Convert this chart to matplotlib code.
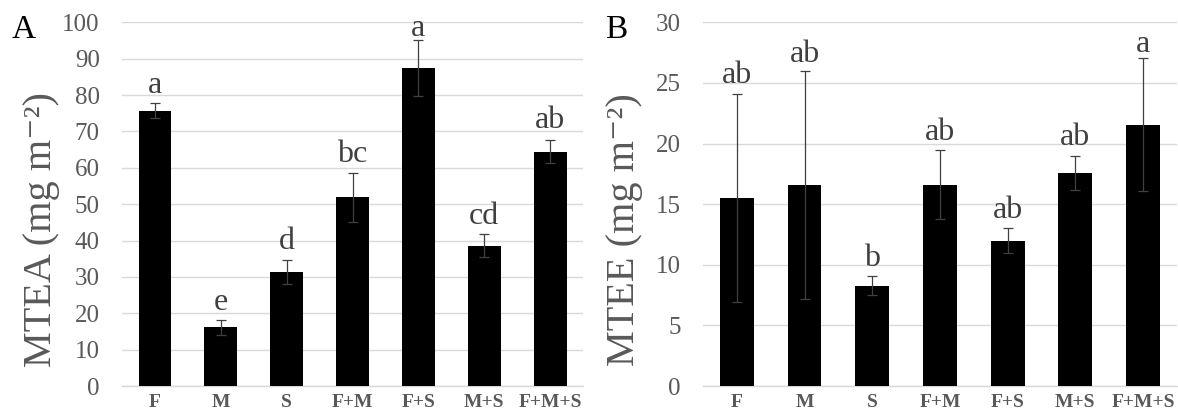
import matplotlib.pyplot as plt
import numpy as np

plt.rcParams["font.family"] = ["Liberation Serif", "DejaVu Serif"]

# ---------------------------------------------------------------------------
# Data
# ---------------------------------------------------------------------------
treatments = ["F", "M", "S", "F+M", "F+S", "M+S", "F+M+S"]

mtea_mean = [75.7, 16.1, 31.4, 51.9, 87.5, 38.6, 64.4]
mtea_err = [2.1, 2.0, 3.3, 6.7, 7.7, 3.2, 3.2]
mtea_letters = ["a", "e", "d", "bc", "a", "cd", "ab"]

mtee_mean = [15.5, 16.6, 8.27, 16.6, 12.0, 17.6, 21.57]
mtee_err = [8.6, 9.4, 0.8, 2.85, 1.0, 1.4, 5.45]
mtee_letters = ["ab", "ab", "b", "ab", "ab", "ab", "a"]

# gap (points) between error bar top and letter baseline
mtea_gap = [7.5, 7.5, 7.5, 7.5, 2.5, 7.5, 8.5]
mtee_gap = [7.5, 6.5, 7.5, 7.5, 7.5, 7.5, 4.5]

GRID = "#d9d9d9"
TEXT = "#595959"


def draw_panel(ax, means, errs, letters, gaps, ymax, step, ylabel, tag,
               tag_x, label_x):
    x = np.arange(len(treatments))
    ax.bar(x, means, width=0.5, color="black", zorder=3)
    ax.errorbar(x, means, yerr=errs, fmt="none", ecolor="#404040",
                elinewidth=0.9, capsize=3.5, capthick=0.9, zorder=4)
    for xi, m, e, lab, g in zip(x, means, errs, letters, gaps):
        ax.annotate(lab, (xi, m + e), xytext=(0, g), textcoords="offset points",
                    ha="center", va="baseline", fontsize=23, color="#404040")

    ax.set_xlim(-0.5, len(treatments) - 0.5)
    ax.set_ylim(0, ymax)
    ax.set_yticks(np.arange(0, ymax + step / 2, step))
    ax.yaxis.grid(True, color=GRID, linewidth=1.0, zorder=0)
    ax.set_axisbelow(True)
    for side in ["top", "right", "left"]:
        ax.spines[side].set_visible(False)
    ax.spines["bottom"].set_color(GRID)
    ax.spines["bottom"].set_linewidth(1.0)
    ax.tick_params(axis="both", length=0)
    ax.tick_params(axis="y", labelsize=18, labelcolor=TEXT, pad=16)
    ax.set_xticks(x)
    ax.set_xticklabels(treatments, fontsize=14, fontweight="bold", color=TEXT)
    ax.tick_params(axis="x", pad=6)
    ax.set_ylabel(ylabel, fontsize=29, color=TEXT)
    ax.yaxis.set_label_coords(label_x, 0.43)
    ax.figure.text(tag_x, 0.928, tag, fontsize=24, color="black",
                   ha="left", va="center")


fig = plt.figure(figsize=(11.78, 4.17), dpi=100)
ax_a = fig.add_axes([0.1036, 0.0743, 0.3913, 0.8722])
ax_b = fig.add_axes([0.5968, 0.0743, 0.4022, 0.8722])

draw_panel(ax_a, mtea_mean, mtea_err, mtea_letters, mtea_gap, 100, 10,
           "MTEA (mg m⁻²)", "A", 0.010, -0.134)
draw_panel(ax_b, mtee_mean, mtee_err, mtee_letters, mtee_gap, 30, 5,
           "MTEE (mg m⁻²)", "B", 0.514, -0.127)

fig.savefig("out.png", dpi=100)
